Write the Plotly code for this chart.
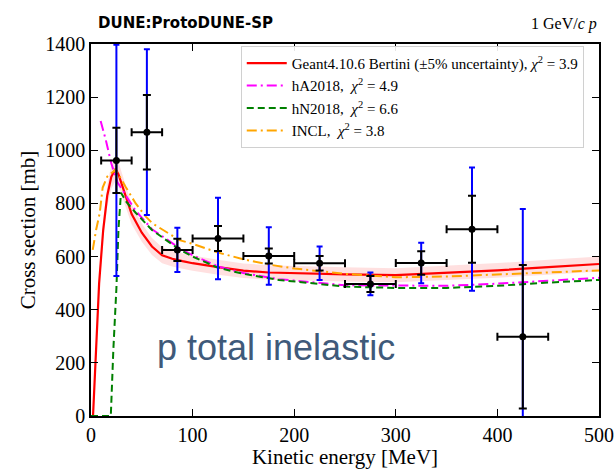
import plotly.graph_objects as go

# ---------------- data ----------------
data_x = [25, 55, 85, 125, 175, 225, 275, 325, 375, 425]
data_xerr = [15, 15, 15, 25, 25, 25, 25, 25, 25, 25]
data_y = [962, 1068, 625, 668, 602, 575, 497, 576, 703, 298]
stat_err = [123, 140, 42, 47, 28, 27, 30, 44, 126, 270]
total_err = [435, 312, 83, 153, 108, 63, 43, 76, 232, 481]

bertini_x = [2, 5, 8, 12, 16, 20, 24, 27, 32, 40, 50, 60, 70, 80, 90, 100, 125, 150, 175, 200, 250, 300, 350, 400, 450, 500]
bertini_y = [0, 250, 500, 700, 830, 900, 930, 910, 850, 760, 690, 638, 605, 592, 583, 575, 560, 547, 540, 537, 533, 530, 538, 548, 560, 572]

ha_x = [9.5, 14.5, 20, 26, 34, 44, 60, 87, 100, 125, 150, 185, 250, 300, 350, 400, 450, 500]
ha_y = [1110, 1040, 950, 880, 832, 772, 703, 632, 605, 563, 538, 515, 492, 490, 490, 498, 508, 520]

hn_x = [0, 19.5, 22, 25, 27, 29.5, 35, 44, 60, 74, 87, 100, 125, 150, 185, 250, 300, 350, 400, 450, 500]
hn_y = [0, 0, 250, 480, 700, 840, 805, 765, 700, 662, 627, 600, 558, 535, 512, 487, 482, 482, 490, 502, 512]

incl_x = [1.7, 5, 8.6, 11.5, 16, 21, 24.3, 34, 44, 54, 60.5, 87, 100, 125, 150, 175, 200, 250, 300, 350, 400, 450, 500]
incl_y = [625, 700, 764, 860, 901, 919, 928, 863, 800, 750, 725, 662, 648, 615, 590, 570, 555, 535, 522, 525, 532, 540, 548]

band_frac = 0.05

SERIF = "Liberation Serif, Times New Roman, serif"

fig = go.Figure()

# uncertainty band for Bertini
fig.add_trace(go.Scatter(x=bertini_x, y=[v * (1 - band_frac) for v in bertini_y],
                         mode="lines", line=dict(width=0, color="rgba(255,0,0,0)"),
                         showlegend=False, hoverinfo="skip"))
fig.add_trace(go.Scatter(x=bertini_x, y=[v * (1 + band_frac) for v in bertini_y],
                         mode="lines", line=dict(width=0, color="rgba(255,0,0,0)"),
                         fill="tonexty", fillcolor="rgba(255,0,0,0.12)",
                         showlegend=False, hoverinfo="skip"))

fig.add_trace(go.Scatter(x=bertini_x, y=bertini_y, mode="lines", legendgroup="g1",
                         line=dict(color="#ff0000", width=2.2),
                         name="Geant4.10.6 Bertini (±5% uncertainty), <i>χ</i><sup>2</sup> = 3.9"))
fig.add_trace(go.Scatter(x=ha_x, y=ha_y, mode="lines", legendgroup="g2",
                         line=dict(color="#ff00ff", width=2, dash="10px,4px,2px,4px"),
                         name="hA2018,  <i>χ</i><sup>2</sup> = 4.9"))
fig.add_trace(go.Scatter(x=hn_x, y=hn_y, mode="lines", legendgroup="g3",
                         line=dict(color="#008000", width=2, dash="7px,4px"),
                         name="hN2018,  <i>χ</i><sup>2</sup> = 6.6"))
fig.add_trace(go.Scatter(x=incl_x, y=incl_y, mode="lines", legendgroup="g4",
                         line=dict(color="#ffa500", width=2, dash="10px,4px,2px,4px"),
                         name="INCL,  <i>χ</i><sup>2</sup> = 3.8"))

# total uncertainty (blue)
fig.add_trace(go.Scatter(x=data_x, y=data_y, mode="markers",
                         marker=dict(color="black", size=1),
                         error_y=dict(type="data", array=total_err, color="#0000ff",
                                      thickness=2, width=3),
                         showlegend=False))
# stat uncertainty (black)
fig.add_trace(go.Scatter(x=data_x, y=data_y, mode="markers",
                         marker=dict(color="black", size=7),
                         error_y=dict(type="data", array=stat_err, color="black",
                                      thickness=2, width=4),
                         error_x=dict(type="data", array=data_xerr, color="black",
                                      thickness=2, width=4),
                         showlegend=False))

fig.add_annotation(x=182, y=256, xref="x", yref="y", text="p total inelastic",
                   showarrow=False, font=dict(family="Liberation Sans, Arial, sans-serif",
                                              size=36, color="#3f5a7a"))

fig.add_annotation(x=0, y=1.0, xref="paper", yref="paper", yshift=10, xshift=5,
                   xanchor="left", yanchor="bottom", text="<b>DUNE:ProtoDUNE-SP</b>",
                   showarrow=False, font=dict(family="DejaVu Sans, sans-serif", size=15, color="black"))
fig.add_annotation(x=1.0, y=1.0, xref="paper", yref="paper", yshift=9,
                   xanchor="right", yanchor="bottom", text="1 GeV/<i>c</i> <i>p</i>",
                   showarrow=False, font=dict(family=SERIF, size=16, color="black"))

axis_common = dict(showline=True, linecolor="black", linewidth=1.5, mirror="ticks",
                   ticks="inside", ticklen=7, tickwidth=1.2, tickcolor="black",
                   showgrid=False, zeroline=False, automargin=False,
                   tickfont=dict(family=SERIF, size=20, color="black"))

fig.update_xaxes(range=[0, 500], dtick=100, tick0=0,
                 title=dict(text="Kinetic energy [MeV]", font=dict(family=SERIF, size=21, color="black"),
                            standoff=2),
                 **axis_common)
fig.update_yaxes(range=[0, 1400], dtick=200, tick0=0,
                 title=dict(text="Cross section [mb]", font=dict(family=SERIF, size=21, color="black"),
                            standoff=4),
                 **axis_common)

fig.update_layout(
    width=615, height=469,
    margin=dict(l=91, r=16, t=44, b=53),
    plot_bgcolor="white", paper_bgcolor="white",
    showlegend=True,
    legend=dict(x=0.97, y=0.995, xanchor="right", yanchor="top",
                bgcolor="rgba(255,255,255,0.9)", bordercolor="#d0d0d0", borderwidth=1,
                font=dict(family=SERIF, size=15, color="black"),
                traceorder="normal", tracegroupgap=4, itemwidth=40),
)

fig.write_html("out.html", config={"displayModeBar": False},
               post_script="document.body.style.margin='0px';")
